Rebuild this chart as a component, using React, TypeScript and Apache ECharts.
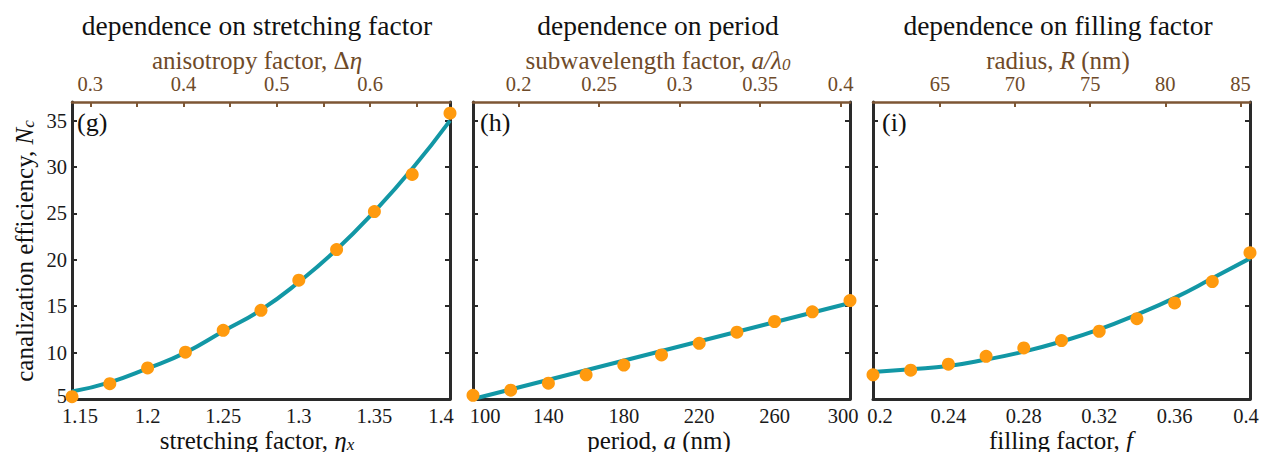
import React, { useEffect, useRef } from 'react';
import * as echarts from 'echarts';

// ---------- data ----------
const stretchX = [1.15, 1.175, 1.2, 1.225, 1.25, 1.275, 1.3, 1.325, 1.35, 1.375, 1.4];
const stretchNc = [5.25, 6.65, 8.35, 10.05, 12.4, 14.55, 17.8, 21.1, 25.2, 29.2, 35.8];
const stretchFit = [5.8, 6.8, 8.3, 10.0, 12.3, 14.6, 17.6, 21.1, 25.2, 29.8, 35.0];

const periodX = [100, 120, 140, 160, 180, 200, 220, 240, 260, 280, 300];
const periodNc = [5.4, 5.95, 6.7, 7.6, 8.65, 9.75, 11.0, 12.2, 13.35, 14.4, 15.6];
const periodFitX = [100, 300];
const periodFit = [5.0, 15.35];

const fillX = [0.2, 0.22, 0.24, 0.26, 0.28, 0.3, 0.32, 0.34, 0.36, 0.38, 0.4];
const fillNc = [7.6, 8.1, 8.75, 9.6, 10.5, 11.3, 12.3, 13.65, 15.35, 17.65, 20.75];
const fillFit = [7.9, 8.2, 8.55, 9.25, 10.1, 11.2, 12.5, 14.1, 15.9, 18.0, 20.15];

const yTicks = [5, 10, 15, 20, 25, 30, 35];
const stretchTicks = [1.15, 1.2, 1.25, 1.3, 1.35, 1.4];
const periodTicks = [100, 140, 180, 220, 260, 300];
const fillTicks = [0.2, 0.24, 0.28, 0.32, 0.36, 0.4];

const anisoTicks = [0.3, 0.35, 0.4, 0.45, 0.5, 0.55, 0.6, 0.65];
const anisoLabels = [0.3, 0.4, 0.5, 0.6];
const subwlTicks = [0.2, 0.25, 0.3, 0.35, 0.4];
const radiusTicks = [65, 70, 75, 80, 85];

const titles = ['dependence on stretching factor', 'dependence on period', 'dependence on filling factor'];
const topNames = ['anisotropy factor, Δ{i|η}', 'subwavelength factor, {i|a/λ}{sub|0}', 'radius, {i|R} (nm)'];
const bottomNames = ['stretching factor, {i|η}{sub|x}', 'period, {i|a} (nm)', 'filling factor, {i|f}'];
const yName = 'canalization efficiency, {i|N}{sub|c}';
const panelLabels = ['(g)', '(h)', '(i)'];

// ---------- styles ----------
const SERIF = 'Liberation Serif';
const DARK = '#2a2a2a';
const BROWN = '#7d5634';
const BROWN_TEXT = '#6e4a29';
const TEAL = '#1297a5';
const ORANGE = '#ff9a0e';
const TICK_FS = 20.5;
const NAME_FS = 25;

const grids = [
  { left: 72, top: 102, width: 378, height: 297 },
  { left: 473, top: 102, width: 377, height: 297 },
  { left: 873, top: 102, width: 377, height: 297 },
];

const fmt = (v: number) => String(+Number(v).toFixed(3));

function bottomAxis(gi: number, min: number, max: number, ticks: number[], shiftL: number, shiftR: number) {
  const base = { fontFamily: SERIF, fontSize: TICK_FS, color: '#1a1a1a' };
  return {
    type: 'value', gridIndex: gi, position: 'bottom', min, max,
    axisLine: { show: true, onZero: false, lineStyle: { color: DARK, width: 3 } },
    axisTick: { show: false },
    splitLine: { show: false },
    axisLabel: {
      customValues: ticks, margin: 6, ...base,
      formatter: (v: number) => {
        const t = fmt(v);
        if (Math.abs(v - ticks[0]) < 1e-9) return `{l|${t}}`;
        if (Math.abs(v - ticks[ticks.length - 1]) < 1e-9) return `{r|${t}}`;
        return t;
      },
      rich: {
        l: { ...base, padding: [0, 0, 0, shiftL * 2] },
        r: { ...base, padding: [0, shiftR * 2, 0, 0] },
      },
    },
  };
}

function topAxis(gi: number, min: number, max: number, ticks: number[], labels: number[]) {
  const base = { fontFamily: SERIF, fontSize: TICK_FS, color: BROWN_TEXT };
  return {
    type: 'value', gridIndex: gi, position: 'top', min, max,
    axisLine: { show: true, onZero: false, lineStyle: { color: BROWN, width: 2.5 } },
    axisTick: { show: true, inside: true, length: 5, customValues: ticks, lineStyle: { color: BROWN, width: 2 } },
    splitLine: { show: false },
    axisLabel: { customValues: labels, margin: 8, ...base, formatter: (v: number) => fmt(v) },
  };
}

function leftAxis(gi: number, showLabels: boolean) {
  const base = { fontFamily: SERIF, fontSize: TICK_FS, color: '#1a1a1a' };
  return {
    type: 'value', gridIndex: gi, position: 'left', min: 5, max: 37,
    axisLine: { show: true, onZero: false, lineStyle: { color: DARK, width: 3 } },
    axisTick: { show: true, inside: true, length: 5, customValues: yTicks.slice(1), lineStyle: { color: DARK, width: 2 } },
    splitLine: { show: false },
    axisLabel: {
      show: showLabels, customValues: yTicks, margin: 5, ...base,
      formatter: (v: number) => (v === yTicks[0] ? `{b|${fmt(v)}}` : fmt(v)),
      rich: { b: { ...base, padding: [0, 0, 6, 0] } },
    },
  };
}

function rightAxis(gi: number) {
  return {
    type: 'value', gridIndex: gi, position: 'right', min: 5, max: 37,
    axisLine: { show: true, onZero: false, lineStyle: { color: DARK, width: 3 } },
    axisTick: { show: true, inside: true, length: 5, customValues: yTicks.slice(1), lineStyle: { color: DARK, width: 2 } },
    splitLine: { show: false },
    axisLabel: { show: false },
  };
}

function zip(xs: number[], ys: number[]) {
  return xs.map((x, i) => [x, ys[i]]);
}

function fitSeries(xi: number, yi: number, data: number[][], smooth: boolean) {
  return {
    type: 'line', xAxisIndex: xi, yAxisIndex: yi, data, smooth, showSymbol: false, symbol: 'none',
    lineStyle: { color: TEAL, width: 4 }, clip: false, z: 3,
  };
}

function pointSeries(xi: number, yi: number, data: number[][]) {
  return {
    type: 'scatter', xAxisIndex: xi, yAxisIndex: yi, data, symbol: 'circle', symbolSize: 13,
    itemStyle: { color: ORANGE, opacity: 1 }, clip: false, z: 4,
  };
}

function richText(fill: string, size: number) {
  return {
    i: { fill, fontFamily: SERIF, fontSize: size, fontStyle: 'italic' },
    sub: { fill, fontFamily: SERIF, fontSize: Math.round(size * 0.68), fontStyle: 'italic', verticalAlign: 'bottom' },
  };
}

function label(text: string, x: number, y: number, size: number, fill: string, align = 'center', rotation = 0) {
  return {
    type: 'text', x, y, rotation, z: 10,
    style: {
      text, fill, fontFamily: SERIF, fontSize: size, align, verticalAlign: 'middle',
      rich: richText(fill, size),
    },
  };
}

export default function App() {
  const ref = useRef<HTMLDivElement>(null);
  useEffect(() => {
    if (!ref.current) return;
    const chart = echarts.init(ref.current, undefined, { renderer: 'svg' });
    const titleCenters = [257, 658, 1058];
    const topNameCenters = [257, 658, 1058];
    const bottomNameCenters = [257, 659, 1061];
    const labelX = [77, 480, 882];
    const option: any = {
      animation: false,
      backgroundColor: '#ffffff',
      textStyle: { fontFamily: SERIF },
      grid: grids.map((g) => ({ ...g, containLabel: false })),
      xAxis: [
        bottomAxis(0, 1.15, 1.4, stretchTicks, 8, 9),
        topAxis(0, 0.2804, 0.6857, anisoTicks, anisoLabels),
        bottomAxis(1, 100, 300, periodTicks, 12, 7),
        topAxis(1, 0.1717, 0.4058, subwlTicks, subwlTicks),
        bottomAxis(2, 0.2, 0.4, fillTicks, 7, 4),
        topAxis(2, 60.55, 85.63, radiusTicks, radiusTicks),
      ],
      yAxis: [
        leftAxis(0, true), rightAxis(0),
        leftAxis(1, false), rightAxis(1),
        leftAxis(2, false), rightAxis(2),
      ],
      series: [
        fitSeries(0, 0, zip(stretchX, stretchFit), true),
        pointSeries(0, 0, zip(stretchX, stretchNc)),
        fitSeries(2, 2, zip(periodFitX, periodFit), false),
        pointSeries(2, 2, zip(periodX, periodNc)),
        fitSeries(4, 4, zip(fillX, fillFit), true),
        pointSeries(4, 4, zip(fillX, fillNc)),
      ],
      graphic: [
        ...titles.map((t, i) => label(t, titleCenters[i], 25, 27.5, '#111')),
        ...topNames.map((t, i) => label(t, topNameCenters[i], 60, NAME_FS, BROWN_TEXT)),
        ...bottomNames.map((t, i) => label(t, bottomNameCenters[i], 440, NAME_FS, '#111')),
        label(yName, 24, 251, NAME_FS, '#111', 'center', Math.PI / 2),
        ...panelLabels.map((t, i) => label(t, labelX[i], 122, 26, '#111', 'left')),
      ],
    };
    chart.setOption(option);
    return () => chart.dispose();
  }, []);
  return <div ref={ref} style={{ position: 'fixed', left: 0, top: 0, width: 1268, height: 452, background: '#fff' }} />;
}
